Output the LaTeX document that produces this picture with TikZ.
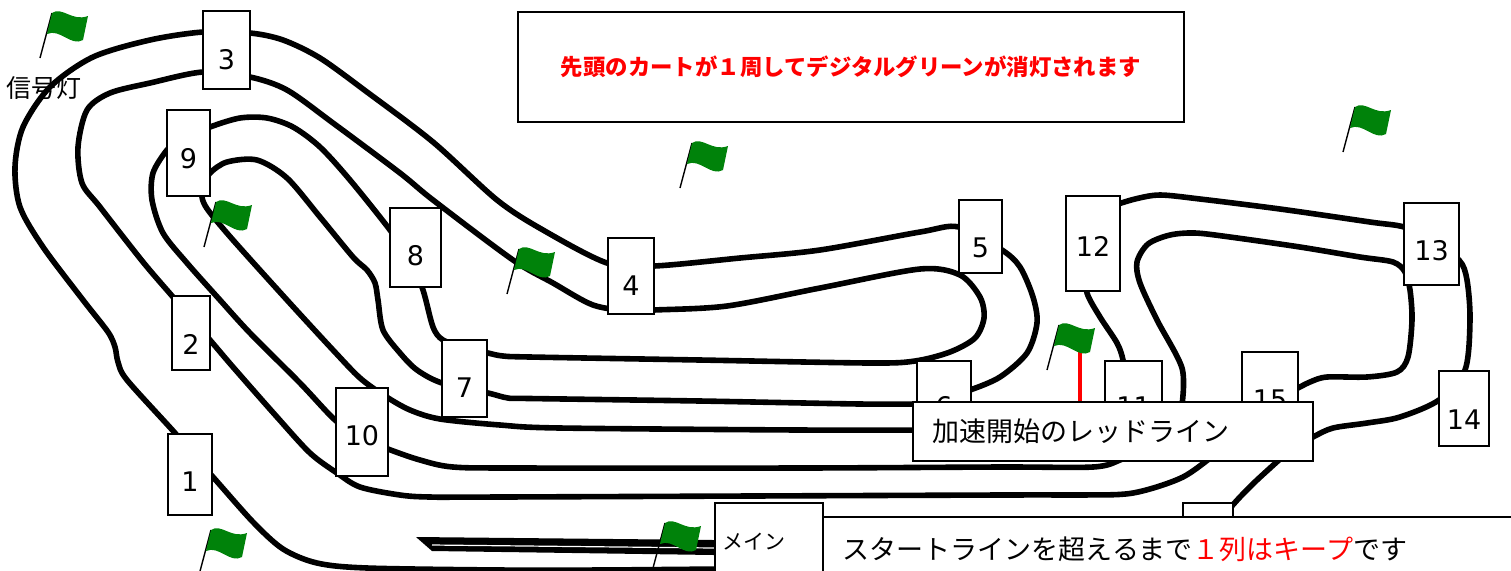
\documentclass[tikz,border=0pt]{standalone}
\usepackage{fontspec}
\usepackage{tikz}
\newfontfamily\jpfont{Noto Sans CJK JP}
\newfontfamily\numfont{DejaVu Sans}
\definecolor{flaggreen}{RGB}{0,130,10}

\begin{document}
\begin{tikzpicture}[x=0.5pt,y=-0.5pt,
		track/.style={line width=2.8pt, line cap=round, line join=round},
		post/.style={draw, fill=white, line width=0.6pt, inner sep=0pt},
		num/.style={font=\numfont\fontsize{13.5}{14}\selectfont},
		note/.style={draw, fill=white, line width=0.8pt, anchor=north west, inner ysep=0pt,
			align=left, font=\jpfont\fontsize{13.5}{16}\selectfont}]
	\useasboundingbox (0,0) rectangle (1511,570);
	\clip (0,0) rectangle (1511,570);
	
	% track edges
	\draw[track] plot[smooth, tension=0.5] coordinates {(720,569) (600,570) (500,570) (367,568) (317,563) (283,549) (253,522) (213,477) (190,452) (175,433) (127,380) (118,362) (115,347) (108,332) (83,300) (43,247) (20,207) (15,167) (23,127) (50,87) (93,57) (150,40) (203,32) (250,33) (283,40) (320,58) (367,92) (433,142) (497,200) (543,230) (607,263) (654,266) (740,258) (820,250) (920,232) (959,227) (1002,250) (1020,267) (1033,297) (1037,323) (1027,353) (1000,377) (970,390) (950,395)};
	\draw[track] plot[smooth, tension=0.5] coordinates {(1220,450) (1183,477) (1133,493) (1080,495) (1000,495) (500,497) (430,497) (400,495) (360,487) (337,473) (310,453) (277,417) (233,367) (210,340) (173,297) (143,262) (100,207) (82,183) (78,147) (87,110) (110,93) (150,83) (203,72) (250,77) (287,90) (333,123) (400,173) (433,200) (513,260) (553,283) (593,305) (630,311) (654,310) (727,306) (820,288) (920,269) (960,275) (980,297) (984,318) (975,338) (950,352) (915,361) (870,363) (700,360) (530,357) (503,356) (488,353) (465,347) (443,340) (433,327) (423,290) (410,260) (390,230) (350,180) (320,147) (293,127) (267,118) (240,118) (210,127) (180,140) (167,150) (153,173) (152,200) (163,233) (187,263) (220,300) (250,333) (300,383) (335,420) (360,437) (388,449) (420,460) (453,467) (520,468) (800,468) (1000,467) (1093,467) (1120,460) (1140,450)};
	\draw[track] plot[smooth, tension=0.5] coordinates {(925,404) (860,404) (700,401) (530,398.5) (508,398) (488,393) (442,383) (417,370) (400,353) (383,330) (378,300) (375,283) (367,270) (353,257) (320,217) (287,178) (257,160) (227,162) (210,173) (204,185) (202,197) (208,210) (233,240) (287,300) (333,350) (360,378) (385,396) (410,410) (440,419) (500,425) (560,428) (800,430) (925,430)};
	\draw[track] plot[smooth, tension=0.5] coordinates {(1290,450) (1313,437) (1333,428) (1367,423) (1400,417) (1439,400) (1465,370) (1470,320) (1467,280) (1459,260) (1430,240) (1404,227) (1370,222) (1280,209) (1200,199) (1160,195) (1135,199) (1112,206)};
	\draw[track] plot[smooth, tension=0.5] coordinates {(1086,270) (1087,293) (1100,317) (1117,343) (1123,360) (1126,385)};
	\draw[track] plot[smooth, tension=0.5] coordinates {(1182,405) (1182,368) (1157,320) (1140,283) (1137,262) (1148,244) (1170,235) (1195,233) (1230,237) (1300,247) (1360,257) (1393,262) (1405,272) (1410,290) (1412,320) (1408,357) (1397,372) (1367,377) (1327,377) (1310,382) (1290,392) (1270,400)};
	\draw[track] plot[smooth, tension=0.5] coordinates {(1290,450) (1257,480) (1240,497) (1228,510) (1215,520)};
	% pit lane
	\fill (416,537) -- (714,540) -- (714,555) -- (432,551) -- cycle;
	\draw[white, line width=0.6pt] (432,545) -- (714,548);
	
	% posts: number/x1/y1/x2/y2/text y
	\foreach \n/\xa/\ya/\xb/\yb/\ty in {3/203/11/250/89/60, 9/167/110/210/196/159, 8/390/208/441/287/256,
		4/608/238/654/314/286, 5/959/200/1002/273/248, 7/442/340/487/417/388, 6/917/361/971/402/407,
		2/172/296/210/370/344, 10/336/388/388/476/436, 1/168/434/212/515/482, 12/1066/196/1120/291/246,
		13/1404/203/1459/285/251, 11/1105/361/1162/402/407, 15/1242/352/1298/402/400, 14/1439/371/1489/446/420}{
		\node[post, minimum width={(\xb-\xa)*0.5pt}, minimum height={(\yb-\ya)*0.5pt}] (post\n) at ({(\xa+\xb)/2},{(\ya+\yb)/2}) {};
		\node[num] (num\n) at ({(\xa+\xb)/2},\ty) {\n};
	}
	\node[post, minimum width=25pt, minimum height=20pt] (post16) at (1208,523) {};
	
	% red line
	\draw[red, line width=2.2pt] (1080,352) -- (1080,404);
	
	% flags
	\foreach \fx/\fy in {40/58, 204/247, 507/294, 680/188, 1343/152, 1047/370, 199/575, 653/568}{
		\begin{scope}[shift={(\fx,\fy)}]
			\draw[line width=0.7pt] (0,0) -- (12,-45);
			\fill[flaggreen] (12,-45) .. controls (22,-52) and (32,-36) .. (48,-42) -- (43,-18)
				.. controls (31,-11) and (20,-30) .. (7,-24) -- cycle;
		\end{scope}
	}
	\node[font=\jpfont\fontsize{12.5}{14}\selectfont] (signal) at (44,88) {信号灯};
	
	% notes
	\node[note, line width=1pt, inner xsep=0pt, minimum width=333pt, minimum height=55pt, align=center,
		text=red, font=\jpfont\bfseries\fontsize{11.2}{13}\selectfont] (lapnote) at (517,11)
		{先頭のカートが１周してデジタルグリーンが消灯されます};
	\node[note, inner xsep=10pt, text width=180pt, minimum height=29.5pt] (redline) at (912,401) {加速開始のレッドライン};
	\node[note, inner xsep=4pt, text width=46pt, minimum height=39pt,
		font=\jpfont\fontsize{10.5}{12}\selectfont] (mainline) at (714,502) {メイン};
	\node[note, inner xsep=10pt, text width=329pt, minimum height=32pt] (keepnote) at (822,516)
		{スタートラインを超えるまで\textcolor{red}{１列はキープ}です};
\end{tikzpicture}
\end{document}
